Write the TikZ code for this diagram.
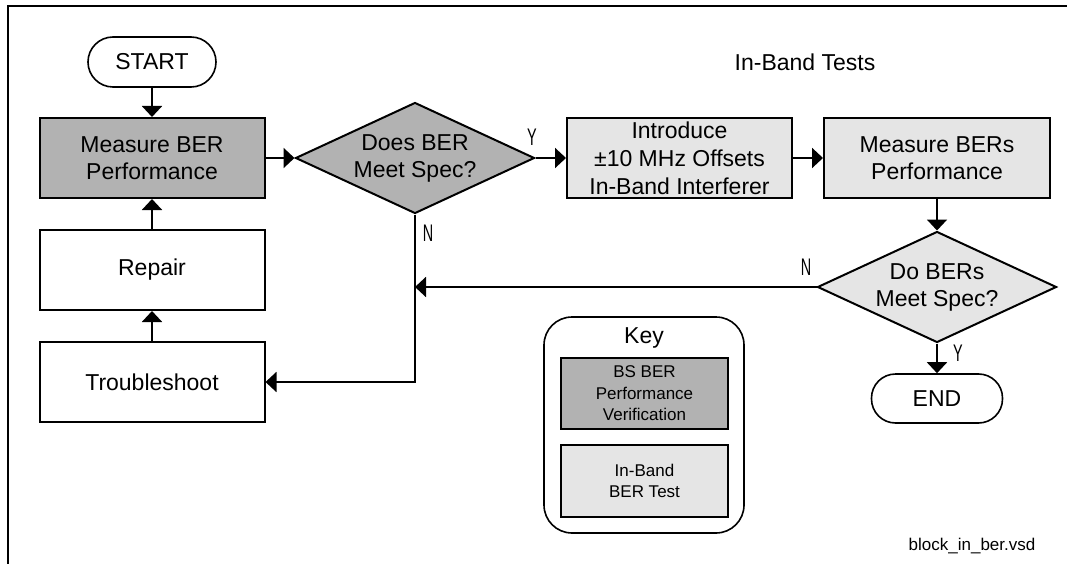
\documentclass[tikz,border=0pt]{standalone}
\usepackage{fontspec}
\setmainfont{Liberation Sans}
\usetikzlibrary{shapes.geometric,arrows.meta}
\definecolor{darkfill}{HTML}{B2B2B2}
\definecolor{lightfill}{HTML}{E5E5E5}
\begin{document}
\begin{tikzpicture}[x=1pt,y=-1pt,
  every node/.style={font=\fontsize{23pt}{27pt}\selectfont, inner sep=0pt, align=center},
  boxst/.style={draw, line width=2pt, minimum width=225pt, minimum height=80pt},
  decst/.style={draw, line width=2pt, diamond, aspect=2.15, minimum width=239pt, minimum height=111pt},
  termst/.style={draw, line width=1.6pt, rounded corners=25pt, minimum width=128pt, minimum height=50pt},
  keyst/.style={draw, line width=1.6pt, minimum width=167pt, font=\fontsize{17pt}{21.5pt}\selectfont},
  conn/.style={line width=2pt, -{Triangle[length=11pt,width=20pt]}},
  lbl/.style={font=\fontsize{24pt}{26pt}\selectfont},
]
\useasboundingbox (0,0) rectangle (1067,564);
\draw[line width=2pt] (8,564) -- (8,6) -- (1067,6);

\node[termst] (start) at (152,62) {START};
\node[boxst, fill=darkfill] (meas) at (152,158) {Measure BER\\Performance};
\node[boxst] (repair) at (152,270) {Repair};
\node[boxst] (trouble) at (152,382) {Troubleshoot};
\node[decst, fill=darkfill] (d1) at (415,158) {Does BER\\Meet Spec?};
\node[boxst, fill=lightfill, font=\fontsize{23pt}{28pt}\selectfont] (intro) at (679.5,158) {Introduce\\±10 MHz Offsets\\In-Band Interferer};
\node[boxst, fill=lightfill, minimum width=226pt] (mbers) at (937,158) {Measure BERs\\Performance};
\node[decst, fill=lightfill] (d2) at (937,287) {Do BERs\\Meet Spec?};
\node[termst, minimum width=131pt, minimum height=49pt, rounded corners=24pt] (end) at (937,398.5) {END};
\node (title) at (805,62) {In-Band Tests};

\node[draw, line width=1.6pt, rounded corners=28pt, minimum width=200pt, minimum height=216pt] (key) at (644,425) {};
\node (keyt) at (644,338) {Key};
\node[keyst, fill=darkfill, minimum height=71pt] (k1) at (644.5,393.5) {BS BER\\Performance\\Verification};
\node[keyst, fill=lightfill, minimum height=72pt] (k2) at (644.5,481) {In-Band\\BER Test};
\node[font=\fontsize{17pt}{20pt}\selectfont] (file) at (972,546) {block\_in\_ber.vsd};

\draw[conn] (start) -- (meas);
\draw[conn] (meas) -- (d1);
\draw[conn] (d1) -- (intro);
\draw[conn] (intro) -- (mbers);
\draw[conn] (mbers) -- (d2);
\draw[conn] (d2) -- (end);
\draw[conn] (trouble) -- (repair);
\draw[conn] (repair) -- (meas);
\coordinate (j) at (d1.south |- d2.west);
\draw[conn] (d2.west) -- (j);
\draw[conn] (d1.south) |- (trouble.east);

\node[lbl] (ly1) at (532,137) {\scalebox{0.6}[1]{Y}};
\node[lbl] (ln1) at (428,233) {\scalebox{0.6}[1]{N}};
\node[lbl] (ln2) at (806,267) {\scalebox{0.6}[1]{N}};
\node[lbl] (ly2) at (958,353) {\scalebox{0.6}[1]{Y}};
\end{tikzpicture}
\end{document}
